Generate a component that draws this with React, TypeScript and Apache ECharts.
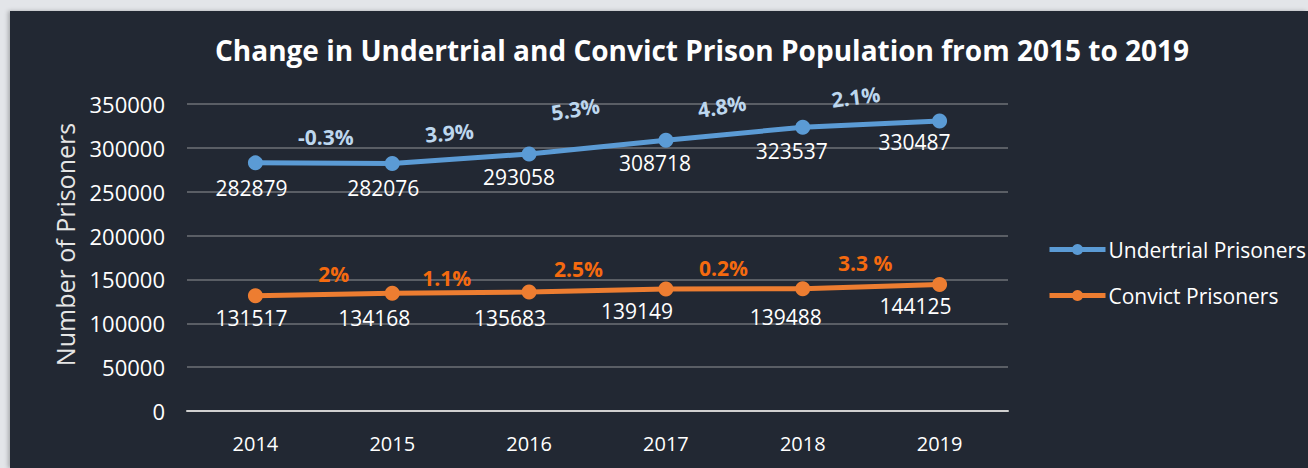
import React, { useEffect, useRef } from "react";
import * as echarts from "echarts";

const years = ["2014", "2015", "2016", "2017", "2018", "2019"];
const undertrial = [282879, 282076, 293058, 308718, 323537, 330487];
const convict = [131517, 134168, 135683, 139149, 139488, 144125];
const undertrialChange = ["-0.3%", "3.9%", "5.3%", "4.8%", "2.1%"];
const convictChange = ["2%", "1.1%", "2.5%", "0.2%", "3.3 %"];
const yMin = 0;
const yMax = 350000;
const yStep = 50000;

// label placement (styling only)
const undertrialLabelOffset = [[-4, 25], [-9, 24], [-10, 23], [-11, 23], [-11, 24], [-25, 21]];
const convictLabelOffset = [[-4, 22], [-18, 25], [-19, 26], [-29, 22], [-17, 28], [-24, 21]];
const undertrialChangeOffset = [[2, -26], [-9, -27], [-16, -41], [-8, -29], [-12, -29]];
const undertrialChangeRotate = [0, 5, 9, 9, 7];
const convictChangeOffset = [[10, -20], [-14, -15], [-19, -21], [-11, -21], [-6, -24]];

const FONT = "Open Sans";

function lineSeries(name: string, values: number[], color: string, offsets: number[][]) {
  return {
    name,
    type: "line",
    xAxisIndex: 0,
    yAxisIndex: 0,
    data: values.map((v, i) => ({
      value: v,
      label: { offset: offsets[i] },
    })),
    symbol: "circle",
    symbolSize: 15,
    lineStyle: { width: 5, color },
    itemStyle: { color },
    label: {
      show: true,
      position: "inside",
      color: "#ffffff",
      fontFamily: FONT,
      fontSize: 21,
    },
    z: 3,
  };
}

function changeSeries(values: number[], texts: string[], color: string, offsets: number[][], rot: number[]) {
  const data = texts.map((t, i) => ({
    value: [i + 1, (values[i] + values[i + 1]) / 2],
    label: { offset: offsets[i], rotate: rot[i], formatter: t },
  }));
  return {
    type: "scatter",
    xAxisIndex: 1,
    yAxisIndex: 0,
    data,
    symbolSize: 1,
    itemStyle: { color: "transparent", opacity: 1 },
    label: {
      show: true,
      position: "inside",
      color,
      fontFamily: FONT,
      fontWeight: "bold",
      fontSize: 21,
    },
    silent: true,
    z: 4,
  };
}

export default function App() {
  const ref = useRef<HTMLDivElement>(null);
  useEffect(() => {
    if (!ref.current) return;
    const chart = echarts.init(ref.current, null, { renderer: "svg" });
    chart.setOption({
      animation: false,
      backgroundColor: "transparent",
      title: {
        text: "Change in Undertrial and Convict Prison Population from 2015 to 2019",
        left: 697,
        textAlign: "center",
        top: 31,
        textStyle: {
          color: "#ffffff",
          fontFamily: FONT,
          fontWeight: "bold",
          fontSize: 28,
        },
      },
      grid: { left: 187, right: 300, top: 104, bottom: 57, containLabel: false },
      legend: {
        orient: "vertical",
        left: 1047,
        top: 239,
        padding: 0,
        itemWidth: 56,
        itemHeight: 14,
        itemGap: 25,
        data: ["Undertrial Prisoners", "Convict Prisoners"],
        lineStyle: { width: 5 },
        textStyle: { color: "#ffffff", fontFamily: FONT, fontSize: 21, padding: [0, 0, 0, -2] },
      },
      xAxis: [
        {
          type: "category",
          data: years,
          boundaryGap: true,
          axisLine: { show: true, lineStyle: { color: "#d0d0d0", width: 2 } },
          axisTick: { show: false },
          axisLabel: { color: "#ffffff", fontFamily: FONT, fontSize: 20, margin: 22 },
        },
        {
          type: "value",
          min: 0,
          max: years.length,
          show: false,
          splitLine: { show: false },
        },
      ],
      yAxis: {
        type: "value",
        min: yMin,
        max: yMax,
        interval: yStep,
        name: "Number of Prisoners",
        nameLocation: "middle",
        nameGap: 110,
        nameTextStyle: { color: "#e6e6e6", fontFamily: FONT, fontSize: 25, padding: [0, 0, 0, 26] },
        axisLine: { show: false },
        axisTick: { show: false },
        axisLabel: {
          color: "#ffffff",
          fontFamily: FONT,
          fontSize: 22,
          margin: 22,
          formatter: (v: number) => String(v),
        },
        splitLine: { lineStyle: { color: "#5a5e65", width: 2 } },
      },
      series: [
        lineSeries("Undertrial Prisoners", undertrial, "#5b9bd5", undertrialLabelOffset),
        lineSeries("Convict Prisoners", convict, "#ed7d31", convictLabelOffset),
        changeSeries(undertrial, undertrialChange, "#bdd7ee", undertrialChangeOffset, undertrialChangeRotate),
        changeSeries(convict, convictChange, "#f56a0f", convictChangeOffset, [0, 0, 0, 0, 0]),
      ],
    });
    return () => chart.dispose();
  }, []);

  return (
    <div
      style={{
        position: "fixed",
        left: 0,
        top: 0,
        width: 1308,
        height: 468,
        background: "#e3e5e9",
        overflow: "hidden",
      }}
    >
      <div
        style={{
          position: "absolute",
          left: 10,
          top: 11,
          right: 0,
          bottom: 0,
          background: "#222833",
          boxShadow: "-2px 0 4px rgba(0,0,0,0.25)",
        }}
      />
      <div ref={ref} style={{ position: "absolute", left: 0, top: 0, width: 1308, height: 468 }} />
    </div>
  );
}
